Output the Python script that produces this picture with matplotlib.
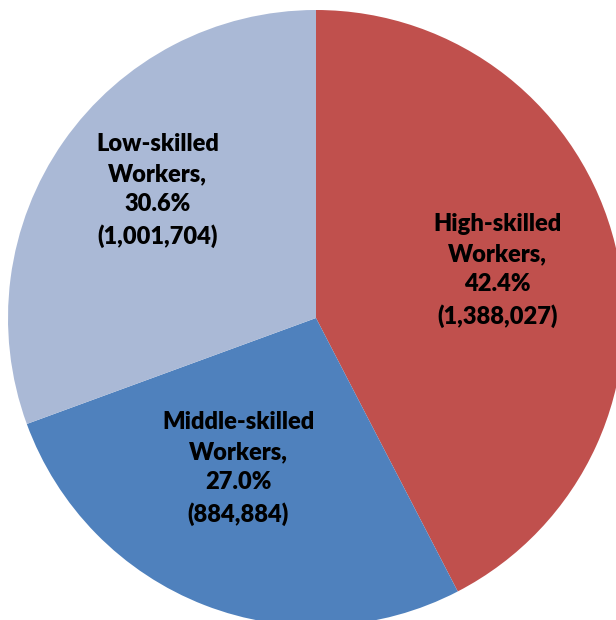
import matplotlib

matplotlib.use("Agg")
import matplotlib.pyplot as plt
import numpy as np

categories = ["High-skilled Workers", "Middle-skilled Workers", "Low-skilled Workers"]
counts = [1388027, 884884, 1001704]
shares = [42.4, 27.0, 30.6]

colors = ["#C0504D", "#4F81BD", "#AAB9D6"]
# radial distance / angle offset for each data label (Excel-like placement)
label_r = [0.61, 0.55, 0.66]
label_dtheta = [1.0, -6.0, -4.0]

fig = plt.figure(figsize=(6.16, 6.20), dpi=100)
ax = fig.add_axes([0, 0, 1, 1])

wedges, _ = ax.pie(counts, colors=colors, startangle=90, counterclock=False,
                   radius=1.0, center=(0, 0),
                   wedgeprops=dict(linewidth=0))

for w, name, pct, n, r, dt in zip(wedges, categories, shares, counts, label_r, label_dtheta):
    mid = np.deg2rad((w.theta1 + w.theta2) / 2 + dt)
    first, second = name.split(" ")
    txt = f"{first}\n{second},\n{pct:.1f}%\n({n:,})"
    ax.text(r * np.cos(mid), r * np.sin(mid), txt, ha="center", va="center",
            fontsize=17, fontweight="heavy", family=["Lato", "DejaVu Sans"],
            linespacing=1.45, color="black")

# pie centre sits at pixel (316, 318) with radius 308 px
ax.set_xlim(-316 / 308, 300 / 308)
ax.set_ylim(-302 / 308, 318 / 308)
ax.set_aspect("auto")
ax.axis("off")

fig.savefig("out.png", dpi=100)
